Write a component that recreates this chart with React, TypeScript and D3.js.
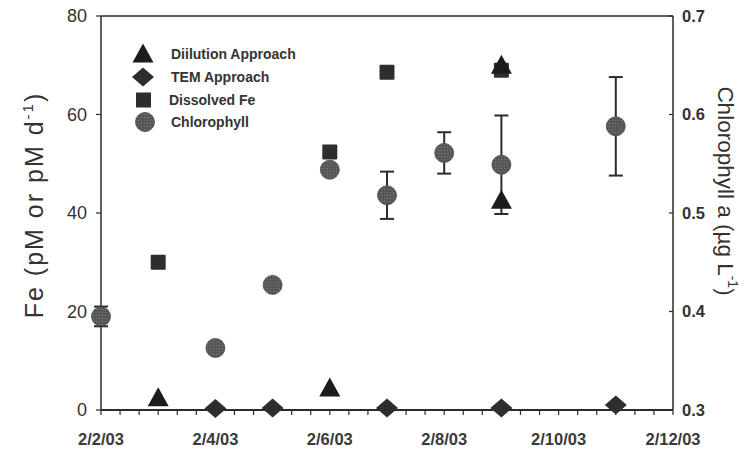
import * as d3 from "d3";
import React from "react";

// Sampling dates and values
const dilutionDates = ["2003-02-03", "2003-02-06", "2003-02-09", "2003-02-09"];
const dilutionValues = [2.5, 4.5, 70, 42.6];

const temDates = ["2003-02-04", "2003-02-05", "2003-02-07", "2003-02-09", "2003-02-11"];
const temValues = [0.3, 0.4, 0.4, 0.4, 1.0];

const feDates = ["2003-02-03", "2003-02-06", "2003-02-07", "2003-02-09"];
const feValues = [30, 52.4, 68.6, 69];

const chlDates = [
  "2003-02-02", "2003-02-04", "2003-02-05", "2003-02-06",
  "2003-02-07", "2003-02-08", "2003-02-09", "2003-02-11",
];
const chlValues = [0.395, 0.363, 0.427, 0.544, 0.518, 0.561, 0.549, 0.588];
const chlErrors = [0.01, 0, 0, 0, 0.024, 0.021, 0.05, 0.05];

const leftTicks = [0, 20, 40, 60, 80];
const rightTicks = [0.3, 0.4, 0.5, 0.6, 0.7];
const dateTicks = ["2003-02-02", "2003-02-04", "2003-02-06", "2003-02-08", "2003-02-10", "2003-02-12"];

const legendItems = ["Diilution Approach", "TEM Approach", "Dissolved Fe", "Chlorophyll"];

const parse = (s: string) => new Date(s + "T00:00:00Z");
const fmt = d3.utcFormat("%-m/%-d/%y");

const W = 750;
const H = 450;
const margin = { top: 16, right: 77, bottom: 40, left: 101 };

const triPath = (x: number, y: number, w = 21, h = 19) =>
  `M${x},${y - h * 0.55}L${x + w / 2},${y + h * 0.45}L${x - w / 2},${y + h * 0.45}Z`;
const diamondPath = (x: number, y: number, w = 22, h = 19) =>
  `M${x},${y - h / 2}L${x + w / 2},${y}L${x},${y + h / 2}L${x - w / 2},${y}Z`;

const App: React.FC = () => {
  const x = d3
    .scaleUtc()
    .domain([parse("2003-02-02"), parse("2003-02-12")])
    .range([margin.left, W - margin.right]);
  const y = d3.scaleLinear().domain([0, 80]).range([H - margin.bottom, margin.top]);
  const y2 = d3.scaleLinear().domain([0.3, 0.7]).range([H - margin.bottom, margin.top]);

  const x0 = margin.left;
  const x1 = W - margin.right;
  const yb = H - margin.bottom;
  const minorTicks = d3.utcHour.every(8)!.range(parse("2003-02-02"), new Date(parse("2003-02-12").getTime() + 1));

  const axisColor = "#2b2b2b";
  const markColor = "#2e2e2e";
  const chlColor = "#575757";
  const font = "'Liberation Sans', Arial, sans-serif";

  return (
    <svg width={W} height={H} style={{ position: "absolute", left: 0, top: 0, background: "#fff" }}>
      <defs>
        <pattern id="stipple" width="3" height="3" patternUnits="userSpaceOnUse">
          <rect width="3" height="3" fill={chlColor} />
          <rect width="1" height="1" fill="#7a7a7a" />
        </pattern>
      </defs>

      {/* frame */}
      <line x1={x0} x2={x1} y1={margin.top} y2={margin.top} stroke={axisColor} strokeWidth={1.5} />
      <line x1={x0} x2={x0} y1={margin.top} y2={yb} stroke={axisColor} strokeWidth={1.5} />
      <line x1={x1} x2={x1} y1={margin.top} y2={yb} stroke={axisColor} strokeWidth={1.5} />
      <line x1={x0} x2={x1} y1={yb} y2={yb} stroke={axisColor} strokeWidth={2} />

      {/* x minor ticks */}
      {minorTicks.map((d, i) => (
        <line key={i} x1={x(d)} x2={x(d)} y1={yb} y2={yb + 5} stroke={axisColor} strokeWidth={1.2} />
      ))}
      {dateTicks.map((d) => (
        <text key={d} x={x(parse(d))} y={yb + 35} textAnchor="middle" fontFamily={font}
          fontSize={16.5} fontWeight="bold" fill="#3a3a3a">
          {fmt(parse(d))}
        </text>
      ))}

      {/* left axis */}
      {leftTicks.map((t) => (
        <g key={t}>
          <line x1={x0 - 5} x2={x0} y1={y(t)} y2={y(t)} stroke={axisColor} strokeWidth={1.2} />
          <text x={x0 - 14} y={y(t)} dy="0.35em" textAnchor="end" fontFamily={font} fontSize={18} fill="#333">
            {t}
          </text>
        </g>
      ))}
      <text transform="translate(43,205) rotate(-90)" textAnchor="middle"
        fontFamily={font} fontSize={25} letterSpacing={2} fill="#333">
        Fe (pM or pM d<tspan dy="-10" fontSize={15}>-1</tspan><tspan dy="10">)</tspan>
      </text>

      {/* right axis */}
      {rightTicks.map((t) => (
        <g key={t}>
          <line x1={x1 - 4} x2={x1} y1={y2(t)} y2={y2(t)} stroke={axisColor} strokeWidth={1.2} />
          <text x={x1 + 9} y={y2(t)} dy="0.35em" fontFamily={font} fontSize={16.5} fontWeight="bold" fill="#333">
            {t.toFixed(1)}
          </text>
        </g>
      ))}
      <text transform="translate(718,191) rotate(90)" textAnchor="middle"
        fontFamily={font} fontSize={22.5} fill="#333">
        Chlorophyll a (µg L<tspan dy="-10" fontSize={14}>-1</tspan><tspan dy="10">)</tspan>
      </text>

      {/* chlorophyll error bars */}
      {chlDates.map((d, i) =>
        chlErrors[i] > 0 ? (
          <g key={d} stroke={axisColor} strokeWidth={2}>
            <line x1={x(parse(d))} x2={x(parse(d))} y1={y2(chlValues[i] - chlErrors[i])} y2={y2(chlValues[i] + chlErrors[i])} />
            <line x1={x(parse(d)) - 7} x2={x(parse(d)) + 7} y1={y2(chlValues[i] - chlErrors[i])} y2={y2(chlValues[i] - chlErrors[i])} />
            <line x1={x(parse(d)) - 7} x2={x(parse(d)) + 7} y1={y2(chlValues[i] + chlErrors[i])} y2={y2(chlValues[i] + chlErrors[i])} />
          </g>
        ) : null,
      )}

      {/* dissolved Fe */}
      {feDates.map((d, i) => (
        <rect key={i} x={x(parse(d)) - 7.5} y={y(feValues[i]) - 7.5} width={15} height={15} fill={markColor} rx={1} />
      ))}

      {/* chlorophyll */}
      {chlDates.map((d, i) => (
        <circle key={i} cx={x(parse(d))} cy={y2(chlValues[i])} r={9.5} fill="url(#stipple)" stroke="#4a4a4a" strokeWidth={0.8} />
      ))}

      {/* TEM approach */}
      {temDates.map((d, i) => (
        <path key={i} d={diamondPath(x(parse(d)), y(temValues[i]))} fill={markColor} />
      ))}

      {/* dilution approach */}
      {dilutionDates.map((d, i) => (
        <path key={i} d={triPath(x(parse(d)), y(dilutionValues[i]))} fill="#1c1c1c" />
      ))}

      {/* legend */}
      <g fontFamily={font} fontSize={14} fontWeight="bold" fill="#333">
        <path d={triPath(143, 54, 21, 19)} fill="#1c1c1c" />
        <path d={diamondPath(143, 77, 22, 19)} fill={markColor} />
        <rect x={136} y={92.5} width={15} height={15} fill={markColor} />
        <circle cx={145} cy={122} r={9.5} fill="url(#stipple)" stroke="#4a4a4a" strokeWidth={0.8} />
        {legendItems.map((t, i) => (
          <text key={t} x={i === 2 ? 169 : 171} y={[54, 77, 100, 122][i]} dy="0.35em">
            {t}
          </text>
        ))}
      </g>
    </svg>
  );
};

export default App;
